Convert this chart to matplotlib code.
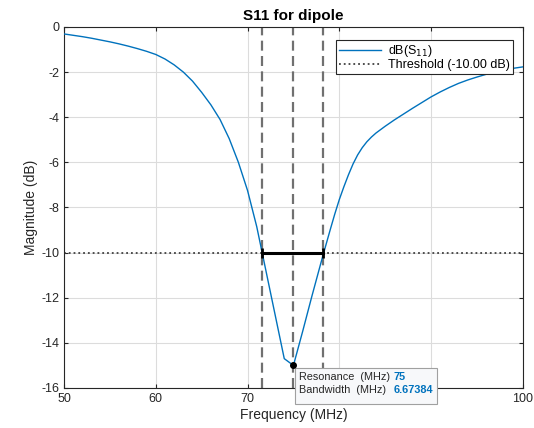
import matplotlib
matplotlib.use('Agg')
import matplotlib.pyplot as plt
from matplotlib.offsetbox import TextArea, VPacker, HPacker, AnnotationBbox

plt.rcParams['font.family'] = ['Liberation Sans', 'DejaVu Sans']
plt.rcParams['axes.unicode_minus'] = False

# S11 curve
freq = [50, 51, 52, 53, 54, 55, 56, 57, 58, 59, 60, 61, 62, 63, 64, 65, 66, 67, 68, 69,
        70, 71, 72, 73, 74, 75, 76, 77, 78, 78.5, 79, 79.5, 80, 80.5, 81, 81.5, 82,
        82.5, 83, 83.5, 84, 85, 86, 87, 88, 89, 90, 91, 92, 93, 94, 95, 96, 97, 98, 99, 100]
s11_db = [-0.31, -0.37, -0.43, -0.50, -0.58, -0.66, -0.75, -0.85, -0.96, -1.08,
          -1.22, -1.42, -1.68, -2.0, -2.4, -2.9, -3.45, -4.1, -4.95, -6.0,
          -7.25, -8.85, -10.8, -12.75, -14.7, -15.0, -13.5, -11.95, -10.45, -9.72,
          -9.0, -8.3, -7.65, -7.08, -6.55, -6.07, -5.67,
          -5.35, -5.09, -4.88, -4.7, -4.4, -4.12, -3.86, -3.6, -3.35, -3.1, -2.88, -2.68,
          -2.5, -2.35, -2.22, -2.1, -1.99, -1.9, -1.83, -1.77]

threshold = -10.0
f_low, f_res, f_high = 71.58, 75.0, 78.25
s11_min = -15.0
tip_labels = ['Resonance  (MHz)', 'Bandwidth  (MHz)']
tip_values = ['75', '6.67384']

fig = plt.figure(figsize=(5.34, 4.28), dpi=100)
ax = fig.add_axes([0.12, 0.0935, 0.859, 0.8435])

ax.plot(freq, s11_db, color='#0072BD', linewidth=1.0, label='dB(S$_{11}$)', zorder=3)
ax.axhline(threshold, color='#404040', linestyle=':', linewidth=1.3,
           label='Threshold (-10.00 dB)', zorder=2)

for fx in (f_low, f_res, f_high):
    ax.axvline(fx, color='#707070', linestyle=(0, (4.5, 2.4)), linewidth=1.6, zorder=2)

ax.plot([f_low, f_high], [threshold, threshold], color='black', linewidth=2.2,
        marker='|', markersize=7, markeredgewidth=2, zorder=4)
ax.plot([f_res], [s11_min], 'o', color='black', markersize=4, zorder=7)

# datatip (covers the 80 and 90 tick labels, as in the original)
lab_props = dict(fontsize=7.8, color='#262626')
val_props = dict(fontsize=7.8, color='#0072BD', fontweight='bold')
labels_box = VPacker(children=[TextArea(t, textprops=lab_props) for t in tip_labels],
                     align='left', pad=0, sep=2.5)
values_box = VPacker(children=[TextArea(t, textprops=val_props) for t in tip_values],
                     align='left', pad=0, sep=2.5)
rows = HPacker(children=[labels_box, values_box], align='top', pad=0, sep=2)
spacer = TextArea(' ', textprops=dict(fontsize=4.5))
tip = VPacker(children=[rows, spacer], align='left', pad=0, sep=0)
ab = AnnotationBbox(tip, (f_res, s11_min), xybox=(4.3, -4.5), boxcoords='offset points',
                    box_alignment=(0, 1), frameon=True, pad=0.55,
                    bboxprops=dict(boxstyle='square', fc='#f7f8fa', ec='#a0a0a0', lw=0.8))
ab.set_zorder(6)
ax.add_artist(ab)

ax.set_xlim(50, 100)
ax.set_ylim(-16, 0)
ax.set_xticks([50, 60, 70, 80, 90, 100])
ax.set_yticks(list(range(-16, 1, 2)))
ax.grid(True, color='#dcdcdc', linewidth=0.8)
ax.set_axisbelow(True)
ax.tick_params(direction='in', top=True, right=True, labelsize=9, colors='#262626',
               length=3)
for sp in ax.spines.values():
    sp.set_color('#262626')
    sp.set_linewidth(0.8)

ax.set_title('S11 for dipole', fontsize=11, fontweight='bold', pad=5)
ax.set_xlabel('Frequency (MHz)', fontsize=10, color='#262626', labelpad=2)
ax.set_ylabel('Magnitude (dB)', fontsize=10, color='#262626', labelpad=2)

leg = ax.legend(loc='upper right', fontsize=9, fancybox=False, framealpha=1,
                edgecolor='#262626', borderpad=0.25, handlelength=3.4, handletextpad=0.5,
                labelspacing=0.0, borderaxespad=0, bbox_to_anchor=(0.9776, 0.964))
leg.get_frame().set_linewidth(0.8)

fig.savefig('out.png', dpi=100)
